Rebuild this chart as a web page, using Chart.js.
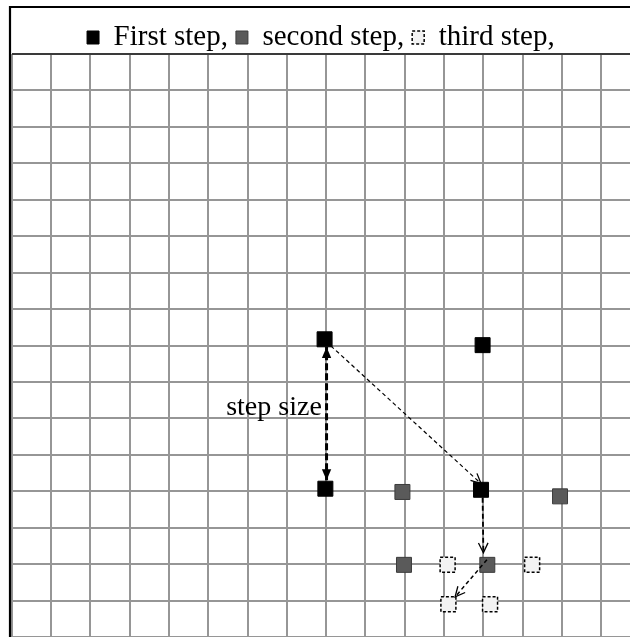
<!DOCTYPE html>
<html>
<head>
<meta charset="utf-8">
<title>Step search</title>
<script src="https://cdn.jsdelivr.net/npm/chart.js@4.4.1/dist/chart.umd.min.js"></script>
<style>
    html, body { margin: 0; padding: 0; background: #fff; }
    #wrap { width: 630px; height: 637px; position: relative; }
</style>
</head>
<body>
<div id="wrap"><canvas id="chart"></canvas></div>
<script>
// grid extent, in cells
const xCells = 15.73;
const yCells = 16;

const legendLabels = ['First step,', 'second step,', 'third step,'];

// marker centres in grid units (x right, y up)
const firstStep = [[7.96, 8.17], [11.98, 8.01], [7.98, 4.07], [11.94, 4.04]];
const secondStep = [[9.94, 3.98], [13.95, 3.86], [9.98, 1.98], [12.10, 1.98]];
const thirdStep = [[11.09, 1.98], [13.24, 1.98], [11.11, 0.90], [12.17, 0.90]];

// arrows: start -> end, in grid units
const arrowStart = [[8.01, 4.30], [8.12, 7.99], [11.98, 3.82], [12.09, 2.12]];
const arrowEnd = [[8.01, 7.96], [11.94, 4.21], [12.00, 2.31], [11.28, 1.10]];

const stepLabel = 'step size';
const stepLabelAt = [7.89, 6.10];

const serif = '"Liberation Serif", "Times New Roman", serif';

function toPoints(arr) {
    return arr.map(p => ({ x: p[0], y: p[1] }));
}

function integerTicks(max) {
    const ticks = [];
    for (let i = 0; i <= Math.floor(max); i++) ticks.push({ value: i });
    return ticks;
}

// shrink the legend box a little so the grid starts right under the text
const legendFit = {
    id: 'legendFit',
    beforeInit(chart) {
        const fit = chart.legend.fit;
        chart.legend.fit = function () {
            fit.call(this);
            this.height -= 8;
        };
    }
};

// third step markers have a dashed outline
const dashedPoints = {
    id: 'dashedPoints',
    beforeDatasetDraw(chart, args) {
        if (args.index === 2) {
            chart.ctx.save();
            chart.ctx.setLineDash([3, 2]);
        }
    },
    afterDatasetDraw(chart, args) {
        if (args.index === 2) chart.ctx.restore();
    }
};

function drawArrow(ctx, x1, y1, x2, y2, style) {
    ctx.save();
    ctx.strokeStyle = '#000';
    ctx.fillStyle = '#000';
    ctx.lineWidth = style.width;
    ctx.setLineDash(style.dash);
    ctx.beginPath();
    ctx.moveTo(x1, y1);
    ctx.lineTo(x2, y2);
    ctx.stroke();
    ctx.setLineDash([]);
    const heads = style.both ? [[x2, y2, x1, y1], [x1, y1, x2, y2]] : [[x1, y1, x2, y2]];
    heads.forEach(h => {
        const a = Math.atan2(h[3] - h[1], h[2] - h[0]);
        const len = style.headLen;
        const spread = style.spread;
        const lx = h[2] - len * Math.cos(a - spread);
        const ly = h[3] - len * Math.sin(a - spread);
        const rx = h[2] - len * Math.cos(a + spread);
        const ry = h[3] - len * Math.sin(a + spread);
        ctx.beginPath();
        ctx.moveTo(lx, ly);
        ctx.lineTo(h[2], h[3]);
        ctx.lineTo(rx, ry);
        if (style.filled) {
            ctx.closePath();
            ctx.fill();
        } else {
            ctx.lineWidth = 1.3;
            ctx.stroke();
        }
    });
    ctx.restore();
}

const arrowStyles = [
    { width: 3, dash: [7, 3], both: true, filled: true, headLen: 12, spread: 0.4 },
    { width: 1.2, dash: [4, 3], both: false, filled: false, headLen: 11, spread: 0.45 },
    { width: 1.8, dash: [5, 3], both: false, filled: false, headLen: 11, spread: 0.45 },
    { width: 1.5, dash: [4, 3], both: false, filled: false, headLen: 11, spread: 0.45 }
];

const annotations = {
    id: 'annotations',
    afterDatasetsDraw(chart) {
        const ctx = chart.ctx;
        const xs = chart.scales.x;
        const ys = chart.scales.y;
        arrowStart.forEach((s, i) => {
            const e = arrowEnd[i];
            drawArrow(ctx,
                xs.getPixelForValue(s[0]), ys.getPixelForValue(s[1]),
                xs.getPixelForValue(e[0]), ys.getPixelForValue(e[1]),
                arrowStyles[i]);
        });
        ctx.save();
        ctx.font = '28px ' + serif;
        ctx.fillStyle = '#000';
        ctx.textAlign = 'right';
        ctx.textBaseline = 'alphabetic';
        ctx.fillText(stepLabel, xs.getPixelForValue(stepLabelAt[0]), ys.getPixelForValue(stepLabelAt[1]));
        ctx.restore();
    },
    afterDraw(chart) {
        // outer frame: left and top edges
        const ctx = chart.ctx;
        const area = chart.chartArea;
        ctx.save();
        ctx.strokeStyle = '#000';
        ctx.lineWidth = 2.2;
        ctx.beginPath();
        ctx.moveTo(area.left - 1.7, chart.height);
        ctx.lineTo(area.left - 1.7, 7);
        ctx.lineTo(chart.width, 7);
        ctx.stroke();
        ctx.restore();
    }
};

const ctx = document.getElementById('chart').getContext('2d');
new Chart(ctx, {
    type: 'scatter',
    data: {
        datasets: [
            {
                label: legendLabels[0],
                data: toPoints(firstStep),
                backgroundColor: '#000',
                borderColor: '#000',
                borderWidth: 1
            },
            {
                label: legendLabels[1],
                data: toPoints(secondStep),
                backgroundColor: '#5a5a5a',
                borderColor: '#3c3c3c',
                borderWidth: 1
            },
            {
                label: legendLabels[2],
                data: toPoints(thirdStep),
                backgroundColor: '#f3f3f3',
                borderColor: '#000',
                borderWidth: 1.5
            }
        ]
    },
    options: {
        responsive: true,
        maintainAspectRatio: false,
        animation: false,
        events: [],
        layout: { autoPadding: false, padding: { top: 15, left: 11.7, right: 0, bottom: 0 } },
        elements: {
            point: { pointStyle: 'rect', radius: 10.6, hoverRadius: 10.6 }
        },
        scales: {
            x: {
                type: 'linear',
                min: 0,
                max: xCells,
                afterBuildTicks: scale => { scale.ticks = integerTicks(xCells); },
                afterFit: scale => { scale.height = 0; },
                ticks: { display: false },
                border: { display: false },
                grid: { color: '#969696', lineWidth: 2, drawTicks: false }
            },
            y: {
                type: 'linear',
                min: 0,
                max: yCells,
                afterBuildTicks: scale => { scale.ticks = integerTicks(yCells); },
                afterFit: scale => { scale.width = 0; },
                ticks: { display: false },
                border: { display: false },
                grid: {
                    color: c => (c.tick && c.tick.value === yCells ? '#3a3a3a' : '#969696'),
                    lineWidth: 2,
                    drawTicks: false
                }
            }
        },
        plugins: {
            tooltip: { enabled: false },
            legend: {
                position: 'top',
                labels: {
                    boxWidth: 12,
                    boxHeight: 13,
                    padding: 8,
                    color: '#000',
                    font: { family: serif, size: 29 },
                    generateLabels: chart => chart.data.datasets.map((ds, i) => ({
                        text: ds.label,
                        fillStyle: ds.backgroundColor,
                        strokeStyle: ds.borderColor,
                        lineWidth: i === 2 ? 1.5 : 1,
                        lineDash: i === 2 ? [3, 2] : [],
                        hidden: false,
                        datasetIndex: i,
                        fontColor: '#000'
                    }))
                }
            }
        }
    },
    plugins: [legendFit, dashedPoints, annotations]
});
</script>
</body>
</html>
